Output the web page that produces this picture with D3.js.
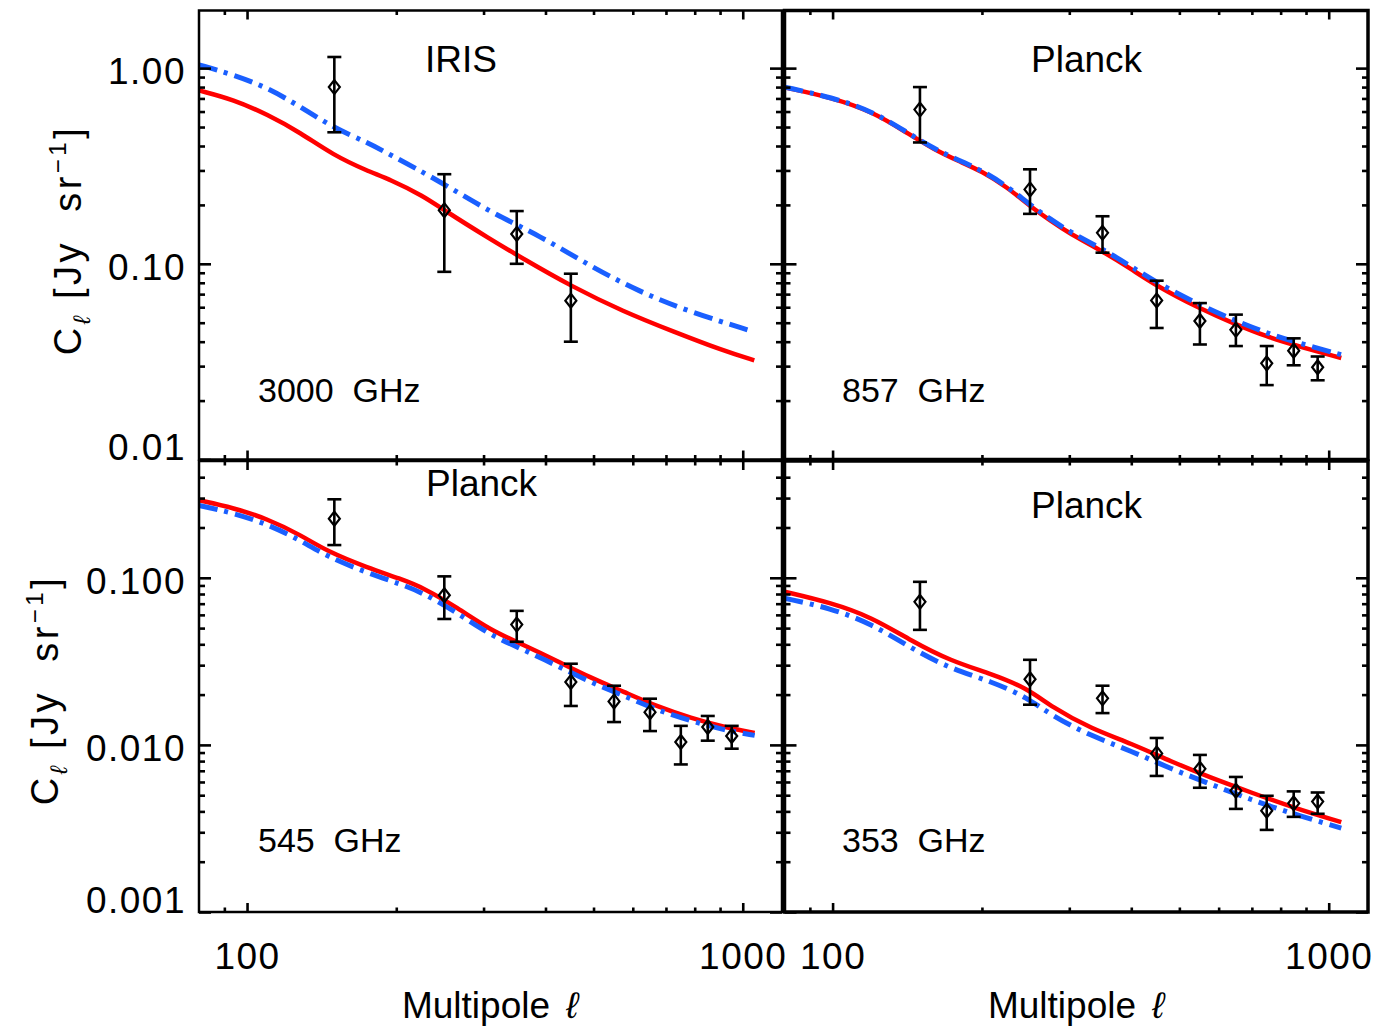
<!DOCTYPE html>
<html><head><meta charset="utf-8">
<script src="https://cdn.jsdelivr.net/npm/d3@7"></script>
<style>
body{margin:0;background:#fff}
svg text{font-family:"Liberation Sans",Arial,Helvetica,sans-serif;fill:#000}
</style></head><body>
<svg id="chart" width="1391" height="1027"></svg>
<script>
// ---------------- DATA ----------------
const xDomain = [80, 1200];
const xMajorTicks = [100, 1000];
const xMinorTicks = [90, 200, 300, 400, 500, 600, 700, 800, 900];
const xTickLabels = ["100", "1000"];

const yTicksTop = [0.01, 0.1, 1];
const yTickLabelsTop = ["0.01", "0.10", "1.00"];
const yTicksBottom = [0.001, 0.01, 0.1];
const yTickLabelsBottom = ["0.001", "0.010", "0.100"];

// IRIS 3000 GHz
const l3000 = [150, 250, 350, 450];
const c3000 = [0.80, 0.188, 0.142, 0.0648];
const c3000Lo = [0.47, 0.091, 0.100, 0.040];
const c3000Hi = [1.14, 0.287, 0.186, 0.089];
const red3000L = [80, 94, 110, 128, 149, 175, 194, 227, 248, 309, 361, 449, 575, 724, 910, 1055];
const red3000V = [0.769, 0.690, 0.579, 0.469, 0.360, 0.298, 0.270, 0.222, 0.190, 0.134, 0.106, 0.0772, 0.0569, 0.0451, 0.0361, 0.0321];
const blue3000L = [80, 94, 110, 128, 149, 175, 194, 245, 309, 390, 491, 618, 779, 1048];
const blue3000V = [1.04, 0.925, 0.794, 0.636, 0.497, 0.417, 0.362, 0.264, 0.184, 0.139, 0.0977, 0.0721, 0.0570, 0.0451];

// Planck bins
const lPlanck = [150, 250, 350, 450, 550, 650, 750, 850, 950];

// Planck 857 GHz
const c857 = [0.614, 0.240, 0.144, 0.065, 0.051, 0.046, 0.031, 0.036, 0.0296];
const c857Lo = [0.417, 0.180, 0.114, 0.047, 0.0387, 0.038, 0.024, 0.0303, 0.0254];
const c857Hi = [0.80, 0.304, 0.175, 0.082, 0.063, 0.055, 0.038, 0.0416, 0.0336];
const curve857L = [80, 100, 120, 140, 160, 180, 200, 225, 250, 275, 300, 350, 400, 450, 550, 650, 750, 850, 1060];
const red857V = [0.797, 0.706, 0.600, 0.474, 0.384, 0.334, 0.297, 0.246, 0.197, 0.166, 0.143, 0.116, 0.094, 0.077, 0.059, 0.049, 0.0425, 0.0385, 0.0330];
const blue857V = [0.800, 0.708, 0.603, 0.477, 0.387, 0.337, 0.300, 0.249, 0.200, 0.169, 0.146, 0.119, 0.097, 0.080, 0.0615, 0.051, 0.0443, 0.0400, 0.0343];

// Planck 545 GHz
const c545 = [0.226, 0.0786, 0.0525, 0.0238, 0.0182, 0.0157, 0.0104, 0.0128, 0.0113];
const c545Lo = [0.157, 0.0567, 0.0414, 0.0171, 0.0137, 0.0121, 0.00764, 0.0106, 0.00949];
const c545Hi = [0.295, 0.102, 0.0634, 0.0306, 0.0226, 0.0189, 0.0130, 0.0149, 0.0130];
const curve545L = [80, 94, 110, 128, 145, 175, 204, 227, 266, 309, 361, 422, 492, 575, 674, 786, 914, 1057];
const red545V = [0.291, 0.262, 0.225, 0.181, 0.144, 0.115, 0.0986, 0.0871, 0.0661, 0.0488, 0.0397, 0.0318, 0.0253, 0.0208, 0.0169, 0.0145, 0.0128, 0.0118];
const blue545V = [0.271, 0.244, 0.209, 0.168, 0.134, 0.107, 0.0917, 0.081, 0.0615, 0.0455, 0.0371, 0.0298, 0.0238, 0.0197, 0.0161, 0.0139, 0.0123, 0.0114];

// Planck 353 GHz
const c353 = [0.0718, 0.0247, 0.0190, 0.00889, 0.00719, 0.00532, 0.00404, 0.00447, 0.00458];
const c353Lo = [0.0488, 0.0174, 0.0155, 0.00652, 0.00554, 0.00414, 0.0031, 0.00371, 0.00387];
const c353Hi = [0.0946, 0.0323, 0.0226, 0.0110, 0.00871, 0.00643, 0.00496, 0.00527, 0.00519];
const curve353L = [80, 99, 120, 144, 173, 209, 247, 276, 332, 400, 481, 580, 698, 840, 1060];
const red353V = [0.0826, 0.0711, 0.0581, 0.0420, 0.0318, 0.0266, 0.0218, 0.0169, 0.0125, 0.0102, 0.00796, 0.00634, 0.00519, 0.00425, 0.00345];
const blue353V = [0.0755, 0.0659, 0.0530, 0.0379, 0.0285, 0.0240, 0.0192, 0.0150, 0.0113, 0.0092, 0.00719, 0.0058, 0.00469, 0.0039, 0.00318];

// ---------------- DRAWING ----------------
const RED = "#ff0000", BLUE = "#1a5fff";
const FONT = '"Liberation Sans", Arial, Helvetica, sans-serif';
const svg = d3.select("#chart");

const panels = [
  {name: "IRIS", freq: "3000\u00a0\u00a0GHz", box: [199, 782, 10.5, 459.5], yDom: [0.01, 1.97],
   yTicks: yTicksTop, yLabels: yTickLabelsTop, showY: true, showX: false,
   pl: l3000, pv: c3000, plo: c3000Lo, phi: c3000Hi,
   rl: red3000L, rv: red3000V, bl: blue3000L, bv: blue3000V,
   nameXY: [425, 72], freqXY: [258, 402], fw: 2.5},
  {name: "Planck", freq: "857\u00a0\u00a0GHz", box: [784.5, 1368, 10.5, 459.5], yDom: [0.01, 1.97],
   yTicks: yTicksTop, yLabels: yTickLabelsTop, showY: false, showX: false,
   pl: lPlanck, pv: c857, plo: c857Lo, phi: c857Hi,
   rl: curve857L, rv: red857V, bl: curve857L, bv: blue857V,
   nameXY: [1031, 72], freqXY: [842, 402], fw: 3.5},
  {name: "Planck", freq: "545\u00a0\u00a0GHz", box: [199, 782, 461, 912], yDom: [0.001, 0.5],
   yTicks: yTicksBottom, yLabels: yTickLabelsBottom, showY: true, showX: true,
   pl: lPlanck, pv: c545, plo: c545Lo, phi: c545Hi,
   rl: curve545L, rv: red545V, bl: curve545L, bv: blue545V,
   nameXY: [426, 496], freqXY: [258, 852], fw: 2.5},
  {name: "Planck", freq: "353\u00a0\u00a0GHz", box: [784.5, 1368, 461, 912], yDom: [0.001, 0.5],
   yTicks: yTicksBottom, yLabels: yTickLabelsBottom, showY: false, showX: true,
   pl: lPlanck, pv: c353, plo: c353Lo, phi: c353Hi,
   rl: curve353L, rv: red353V, bl: curve353L, bv: blue353V,
   nameXY: [1031, 518], freqXY: [842, 852], fw: 3.5}
];

const diamond = {
  draw(ctx, size) {
    const hw = 5.5, hh = 7;
    ctx.moveTo(0, -hh); ctx.lineTo(hw, 0); ctx.lineTo(0, hh); ctx.lineTo(-hw, 0); ctx.closePath();
  }
};

function minorY(dom) {
  const out = [];
  const k0 = Math.floor(Math.log10(dom[0])), k1 = Math.ceil(Math.log10(dom[1]));
  for (let k = k0; k <= k1; k++) for (let m = 2; m <= 9; m++) {
    const v = m * Math.pow(10, k);
    if (v > dom[0] && v < dom[1]) out.push(v);
  }
  return out;
}

function styleAxis(g, sw) {
  g.select(".domain").remove();
  g.selectAll("line").attr("stroke", "#000").attr("stroke-width", sw);
  g.attr("font-family", FONT).attr("font-size", 37);
  g.selectAll("text").attr("letter-spacing", 1.5);
}

panels.forEach(p => {
  const [x0, x1, y0, y1] = p.box;
  const x = d3.scaleLog().domain(xDomain).range([x0, x1]);
  const y = d3.scaleLog().domain(p.yDom).range([y1, y0]);
  const g = svg.append("g");

  const line = d3.line().x(d => x(d[0])).y(d => y(d[1])).curve(d3.curveBasis);
  g.append("path").datum(d3.zip(p.rl, p.rv)).attr("d", line)
    .attr("fill", "none").attr("stroke", RED).attr("stroke-width", 4.5);
  g.append("path").datum(d3.zip(p.bl, p.bv)).attr("d", line)
    .attr("fill", "none").attr("stroke", BLUE).attr("stroke-width", 5)
    .attr("stroke-dasharray", "19,7,4,7");

  // error bars
  const pts = p.pl.map((l, i) => ({l, v: p.pv[i], lo: p.plo[i], hi: p.phi[i]}));
  const eb = g.append("g").attr("stroke", "#000").attr("stroke-width", 2.6).attr("fill", "none");
  eb.selectAll(".v").data(pts).join("line")
    .attr("x1", d => x(d.l)).attr("x2", d => x(d.l)).attr("y1", d => y(d.lo)).attr("y2", d => y(d.hi));
  eb.selectAll(".ct").data(pts).join("line")
    .attr("x1", d => x(d.l) - 7).attr("x2", d => x(d.l) + 7).attr("y1", d => y(d.hi)).attr("y2", d => y(d.hi));
  eb.selectAll(".cb").data(pts).join("line")
    .attr("x1", d => x(d.l) - 7).attr("x2", d => x(d.l) + 7).attr("y1", d => y(d.lo)).attr("y2", d => y(d.lo));
  g.append("g").selectAll("path").data(pts).join("path")
    .attr("d", d3.symbol(diamond, 64)())
    .attr("transform", d => `translate(${x(d.l)},${y(d.v)})`)
    .attr("fill", "none").attr("stroke", "#000").attr("stroke-width", 2.2);

  // frame
  g.append("rect").attr("x", x0).attr("y", y0).attr("width", x1 - x0).attr("height", y1 - y0)
    .attr("fill", "none").attr("stroke", "#000").attr("stroke-width", p.fw);

  const tw = 2.6;
  // x ticks (bottom + top)
  const xb = g.append("g").attr("transform", `translate(0,${y1})`)
    .call(d3.axisBottom(x).tickValues(xMajorTicks).tickSize(-9).tickPadding(31)
      .tickFormat((d, i) => p.showX ? xTickLabels[i] : ""));
  styleAxis(xb, tw);
  const xbm = g.append("g").attr("transform", `translate(0,${y1})`)
    .call(d3.axisBottom(x).tickValues(xMinorTicks).tickSize(-4.5).tickFormat(""));
  styleAxis(xbm, tw);
  const xt = g.append("g").attr("transform", `translate(0,${y0})`)
    .call(d3.axisTop(x).tickValues(xMajorTicks).tickSize(-9).tickFormat(""));
  styleAxis(xt, tw);
  const xtm = g.append("g").attr("transform", `translate(0,${y0})`)
    .call(d3.axisTop(x).tickValues(xMinorTicks).tickSize(-4.5).tickFormat(""));
  styleAxis(xtm, tw);

  // y ticks (left + right)
  const yl = g.append("g").attr("transform", `translate(${x0},0)`)
    .call(d3.axisLeft(y).tickValues(p.yTicks).tickSize(-12).tickPadding(13)
      .tickFormat((d, i) => p.showY ? p.yLabels[i] : ""));
  styleAxis(yl, tw);
  yl.selectAll("text").attr("dy", (d, i) => i === 0 ? "-0.0em" : "0.42em");
  const ylm = g.append("g").attr("transform", `translate(${x0},0)`)
    .call(d3.axisLeft(y).tickValues(minorY(p.yDom)).tickSize(-6).tickFormat(""));
  styleAxis(ylm, tw);
  const yr = g.append("g").attr("transform", `translate(${x1},0)`)
    .call(d3.axisRight(y).tickValues(p.yTicks).tickSize(-12).tickFormat(""));
  styleAxis(yr, tw);
  const yrm = g.append("g").attr("transform", `translate(${x1},0)`)
    .call(d3.axisRight(y).tickValues(minorY(p.yDom)).tickSize(-6).tickFormat(""));
  styleAxis(yrm, tw);

  // labels
  g.append("text").attr("x", p.nameXY[0]).attr("y", p.nameXY[1]).attr("font-size", 37).text(p.name);
  g.append("text").attr("x", p.freqXY[0]).attr("y", p.freqXY[1]).attr("font-size", 34).text(p.freq);
});

// y-axis titles
function yTitle(cx, cy) {
  const t = svg.append("text").attr("transform", `translate(${cx},${cy}) rotate(-90)`)
    .attr("text-anchor", "middle").attr("font-size", 38).attr("letter-spacing", 3.5);
  t.append("tspan").text("C");
  t.append("tspan").attr("dy", 9).attr("font-size", 24).attr("font-style", "italic").text("ℓ");
  t.append("tspan").attr("dy", -9).text("\u00a0[Jy\u00a0\u00a0sr");
  t.append("tspan").attr("dy", -15).attr("font-size", 24).text("−1");
  t.append("tspan").attr("dy", 15).text("]");
}
yTitle(81, 240);
yTitle(58, 690);

// x-axis titles
function xTitle(cx, cy) {
  const t = svg.append("text").attr("x", cx).attr("y", cy).attr("text-anchor", "middle").attr("font-size", 37);
  t.append("tspan").text("Multipole");
  t.append("tspan").attr("dx", 16).attr("font-style", "italic").text("ℓ");
}
xTitle(490, 1018);
xTitle(1076, 1018);
</script>
</body></html>
